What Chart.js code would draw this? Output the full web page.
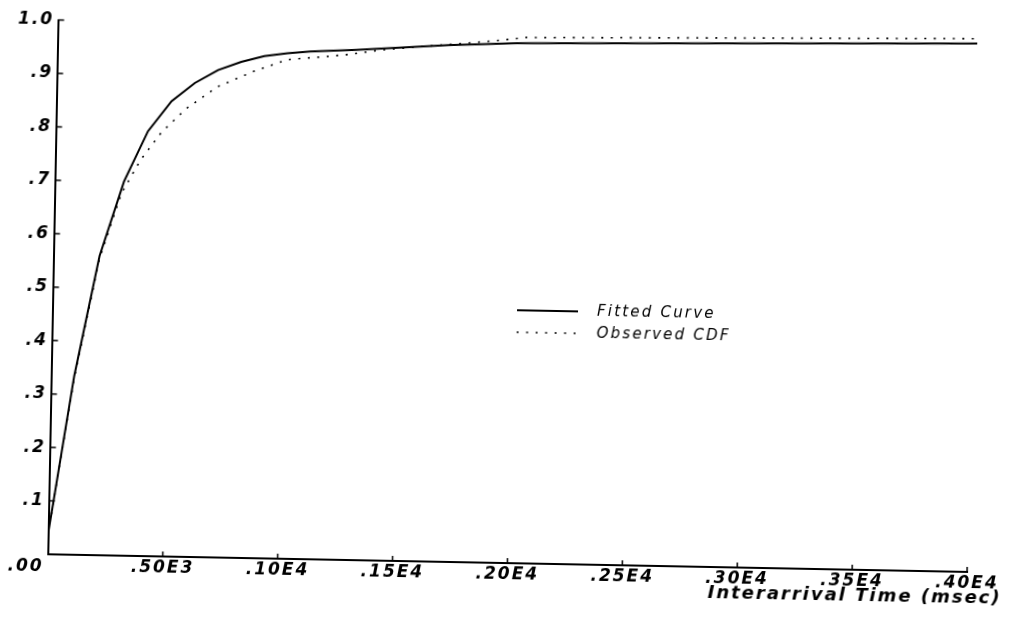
<!DOCTYPE html>
<html><head><meta charset="utf-8">
<script src="https://cdn.jsdelivr.net/npm/chart.js@4/dist/chart.umd.min.js"></script>
<style>
html,body{margin:0;padding:0;background:#fff;overflow:hidden;width:1009px;height:624px}
#wrap{width:1009px;height:624px;transform:rotate(1.1deg);transform-origin:504.5px 312px}
canvas{display:block}
</style></head><body>
<div id="wrap"><canvas id="c" width="1009" height="624"></canvas></div>
<script>
// Fitted curve
const fitX = [0,100,200,300,400,500,600,700,800,900,1000,1100,1300,1500,1700,2000,4000];
const fitY = [0.04,0.335,0.56,0.70,0.795,0.852,0.887,0.912,0.928,0.940,0.946,0.950,0.955,0.961,0.967,0.973,0.989];
// Observed CDF
const obsX = [0,100,200,290,370,460,565,700,850,1000,1140,1270,1400,1575,1750,1925,2040,3000,4000];
const obsY = [0.04,0.33,0.555,0.678,0.741,0.794,0.839,0.881,0.910,0.934,0.940,0.946,0.955,0.963,0.970,0.978,0.984,0.991,0.998];
// Ticks
const xTicks = [0,500,1000,1500,2000,2500,3000,3500,4000];
const xTickLabels = ['.00','.50E3','.10E4','.15E4','.20E4','.25E4','.30E4','.35E4','.40E4'];
const yTicks = [0,0.1,0.2,0.3,0.4,0.5,0.6,0.7,0.8,0.9,1.0];
const yTickLabels = ['','.1','.2','.3','.4','.5','.6','.7','.8','.9','1.0'];
const seriesNames = ['Fitted Curve','Observed CDF'];
const xTitle = 'Interarrival Time (msec)';

const tickFont = {family:'DejaVu Sans', size:17, weight:'bold', style:'italic'};

const decor = {
  id:'decor',
  beforeDraw(chart){ chart.ctx.letterSpacing = '2px'; },
  afterDraw(chart){
    const ctx = chart.ctx, ca = chart.chartArea;
    const xs = chart.scales.x, ys = chart.scales.y;
    ctx.save();
    ctx.strokeStyle = '#000'; ctx.lineWidth = 1.5;
    // inward tick marks
    xTicks.forEach((v,i)=>{ if(i===0) return; const px = xs.getPixelForValue(v);
      ctx.beginPath(); ctx.moveTo(px, ca.bottom); ctx.lineTo(px, ca.bottom-5); ctx.stroke(); });
    yTicks.forEach((v,i)=>{ if(i===0) return; const py = ys.getPixelForValue(v);
      ctx.beginPath(); ctx.moveTo(ca.left, py); ctx.lineTo(ca.left+6, py); ctx.stroke(); });
    // origin label
    ctx.fillStyle = '#000';
    ctx.font = 'italic bold 17px "DejaVu Sans"';
    ctx.letterSpacing = '2px';
    ctx.textAlign = 'right'; ctx.textBaseline = 'middle';
    ctx.fillText(xTickLabels[0], ca.left - 4, ca.bottom + 13);
    // axis title
    ctx.font = 'italic bold 18px "DejaVu Sans"';
    ctx.letterSpacing = '2px';
    ctx.fillText(xTitle, ca.right + 35, ca.bottom + 26);
    // legend
    const lx0 = 517, lx1 = 578, tx = 597, ly = 310, gap = 22;
    ctx.lineWidth = 2; ctx.setLineDash([]);
    ctx.beginPath(); ctx.moveTo(lx0, ly); ctx.lineTo(lx1, ly); ctx.stroke();
    ctx.lineWidth = 1.6; ctx.setLineDash([2,7.5]);
    ctx.beginPath(); ctx.moveTo(lx0, ly+gap); ctx.lineTo(lx1, ly+gap); ctx.stroke();
    ctx.setLineDash([]);
    ctx.font = 'italic 15px "DejaVu Sans"';
    ctx.letterSpacing = '2.2px';
    ctx.textAlign = 'left';
    ctx.fillText(seriesNames[0], tx, ly);
    ctx.fillText(seriesNames[1], tx, ly+gap);
    ctx.restore();
  }
};

new Chart(document.getElementById('c'), {
  type:'line',
  data:{
    datasets:[
      {label:seriesNames[0], data:fitX.map((x,i)=>({x, y:fitY[i]})), borderColor:'#000', borderWidth:2, pointRadius:0, fill:false},
      {label:seriesNames[1], data:obsX.map((x,i)=>({x, y:obsY[i]})), borderColor:'#000', borderWidth:1.6, borderDash:[2,7.5], pointRadius:0, fill:false}
    ]
  },
  options:{
    responsive:false, animation:false, devicePixelRatio:1,
    layout:{padding:{top:28.6, right:37, left:0, bottom:0}},
    plugins:{legend:{display:false}, tooltip:{enabled:false}},
    elements:{line:{tension:0}},
    scales:{
      x:{type:'linear', min:0, max:4000,
        afterBuildTicks:s=>{ s.ticks = xTicks.map(v=>({value:v})); },
        afterFit:s=>{ s.height = 61; },
        ticks:{autoSkip:false, maxRotation:0, padding:1, color:'#000', font:tickFont,
          callback:(v,i)=> i===0 ? '' : xTickLabels[i]},
        grid:{display:false, drawTicks:false},
        border:{display:true, color:'#000', width:2}
      },
      y:{type:'linear', min:0, max:1,
        afterBuildTicks:s=>{ s.ticks = yTicks.map(v=>({value:v})); },
        afterFit:s=>{ s.width = 52.6; },
        ticks:{padding:4, color:'#000', font:tickFont,
          callback:(v,i)=> yTickLabels[i]},
        grid:{display:false, drawTicks:false},
        border:{display:true, color:'#000', width:2}
      }
    }
  },
  plugins:[decor]
});
</script>
</body></html>
